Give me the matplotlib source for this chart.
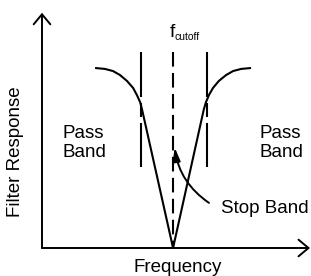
import matplotlib
matplotlib.use('Agg')
import matplotlib.pyplot as plt

plt.rcParams['font.family'] = ['Liberation Sans', 'DejaVu Sans']
plt.rcParams['lines.scale_dashes'] = False

# filter response curve (frequency, response)
left_freq = [1.98, 2.35, 2.65, 2.91, 3.17, 3.40, 3.54, 3.66, 3.73, 4.89]
left_resp = [7.66, 7.62, 7.53, 7.36, 7.11, 6.81, 6.51, 6.21, 5.91, 0.0]
right_freq = [4.89, 6.04, 6.12, 6.23, 6.38, 6.60, 6.87, 7.13, 7.43, 7.80]
right_resp = [0.0, 5.91, 6.21, 6.51, 6.81, 7.11, 7.36, 7.53, 7.62, 7.66]

# cutoff marker lines
f_low, f_cut, f_high = 3.69, 4.90, 6.16
marker_top = 8.34
marker_bottom = 3.45

fig = plt.figure(figsize=(3.11, 2.76), dpi=100)
ax = fig.add_axes([42 / 311, 28 / 276, 268 / 311, 235 / 276])
ax.set_xlim(0, 10)
ax.set_ylim(0, 10)
ax.axis('off')

lw = 1.5
ax.plot(left_freq, left_resp, color='black', lw=lw, solid_capstyle='butt')
ax.plot(right_freq, right_resp, color='black', lw=lw, solid_capstyle='butt')

# band edges and the cutoff line
for f in (f_low, f_high):
    ax.plot([f, f], [marker_top, marker_bottom], color='black', lw=lw,
            dashes=(32.4, 4.3, 10.1, 4.3, 32.4, 10), dash_capstyle='butt')
ax.plot([f_cut, f_cut], [marker_top, 0], color='black', lw=lw,
        dashes=(10.5, 4.6), dash_capstyle='butt')

# axes with open arrow heads
axis_arrow = dict(arrowstyle='->,head_length=0.72,head_width=0.6',
                  color='black', lw=1.4, shrinkA=0, shrinkB=0)
ax.annotate('', xy=(0, 10.01), xytext=(0, 0), arrowprops=axis_arrow,
            annotation_clip=False)
ax.annotate('', xy=(10.0, 0), xytext=(0, 0), arrowprops=axis_arrow,
            annotation_clip=False)

# stop band pointer
ax.annotate('', xy=(4.95, 4.28), xytext=(6.23, 1.92),
            arrowprops=dict(arrowstyle='-|>,head_length=0.8,head_width=0.22',
                            color='black', lw=1.4, shrinkA=0, shrinkB=0,
                            connectionstyle='arc3,rad=-0.22'),
            annotation_clip=False)

fs = 13.5
ax.text(0.78, 4.47, 'Pass\nBand', fontsize=fs, ha='left', va='center',
        linespacing=1.1)
ax.text(8.1, 4.47, 'Pass\nBand', fontsize=fs, ha='left', va='center',
        linespacing=1.1)
ax.text(6.67, 1.49, 'Stop Band', fontsize=fs, ha='left', va='baseline')
ax.text(4.78, 8.98, 'f', fontsize=14, ha='left', va='baseline')
ax.text(4.96, 8.85, 'cutoff', fontsize=7.5, ha='left', va='baseline')

ax.text(-1.0, 4.09, 'Filter Response', fontsize=fs, rotation=90,
        ha='center', va='center', clip_on=False)
ax.text(5.05, -1.01, 'Frequency', fontsize=fs, ha='center', va='baseline',
        clip_on=False)

fig.savefig('out.png', dpi=100)
